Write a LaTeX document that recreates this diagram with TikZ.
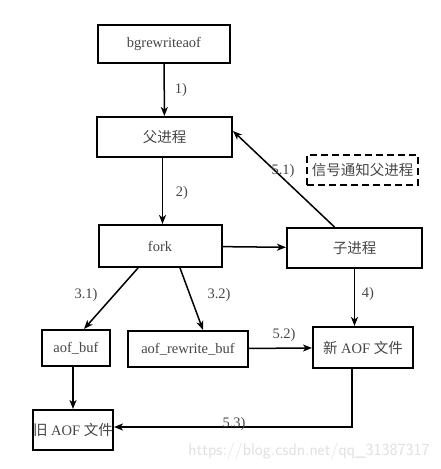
\documentclass[tikz,border=0pt]{standalone}
\usepackage{fontspec}
\usepackage{tikz}
\usetikzlibrary{arrows.meta}
\setmainfont{Liberation Serif}
\newfontfamily\cjk{Noto Sans CJK SC}
\definecolor{textgray}{RGB}{70,70,70}

\begin{document}
\begin{tikzpicture}[x=1pt, y=-1pt,
			box_style/.style={draw, line width=2pt, rectangle, inner sep=0pt, text=textgray, font=\fontsize{14.5}{16}\selectfont},
			dash_style/.style={box_style, dash pattern=on 7pt off 4pt},
			edge_style/.style={line width=1.5pt, black, -{Stealth[length=9pt, width=7pt, inset=2.5pt]}},
			label_style/.style={text=textgray, font=\fontsize{14.5}{16}\selectfont}]
			\useasboundingbox (0,0) rectangle (441,469);
			% boxes
			\node[box_style, minimum width=132pt, minimum height=38pt] (bgrw) at (164,44) {bgrewriteaof};
			\node[box_style, minimum width=135pt, minimum height=40pt] (parent) at (164.5,137) {\cjk 父进程};
			\node[box_style, minimum width=123pt, minimum height=42pt] (fork) at (160,246) {fork};
			\node[box_style, minimum width=135pt, minimum height=40pt] (child) at (354.5,248) {\cjk 子进程};
			\node[dash_style, minimum width=111pt, minimum height=30pt] (signal) at (362.5,170) {\cjk 信号通知父进程};
			\node[box_style, minimum width=100pt, minimum height=41pt] (newaof) at (363,347.5) {{\cjk 新} AOF {\cjk 文件}};
			\node[box_style, minimum width=68pt, minimum height=36pt] (aofbuf) at (76,348) {aof\_buf};
			\node[box_style, minimum width=120pt, minimum height=36pt] (rwbuf) at (188,349) {aof\_rewrite\_buf};
			\node[box_style, minimum width=80pt, minimum height=40pt] (oldaof) at (73,430) {{\cjk 旧} AOF {\cjk 文件}};
			
			% arrows
			\draw[edge_style] (bgrw) -- (parent);
			\draw[edge_style] ([xshift=-2pt]parent.south) -- ([xshift=-2pt]parent.south |- fork.north);
			\draw[edge_style] (fork) -- (child);
			\draw[edge_style] ([xshift=-20pt]child.north) -- ([yshift=6pt]parent.east);
			\draw[edge_style] (child.south) -- (child.south |- newaof.north);
			\draw[edge_style] ([xshift=-22pt]fork.south) -- ([xshift=8pt]aofbuf.north);
			\draw[edge_style] ([xshift=20pt]fork.south) -- ([xshift=15pt]rwbuf.north);
			\draw[edge_style] (rwbuf) -- (newaof);
			\draw[edge_style] ([xshift=-3pt]aofbuf.south) -- ([xshift=-3pt]aofbuf.south |- oldaof.north);
			\draw[edge_style] ([xshift=-11pt]newaof.south) |- ([yshift=3pt]oldaof.east);
			
			% step labels
			\node[label_style] (l1) at (181,90) {1)};
			\node[label_style] (l2) at (182,193) {2)};
			\node[label_style] (l31) at (86,295) {3.1)};
			\node[label_style] (l32) at (219,295) {3.2)};
			\node[label_style] (l4) at (368,294) {4)};
			\node[label_style] (l51) at (283,171) {5.1)};
			\node[label_style] (l52) at (284,335) {5.2)};
			\node[label_style] (l53) at (234,424) {5.3)};
			\node[text=black!12, font=\fontsize{17}{19}\sffamily] (mark) at (309,451) {https://blog.csdn.net/qq\_31387317};
		\end{tikzpicture}
\end{document}
